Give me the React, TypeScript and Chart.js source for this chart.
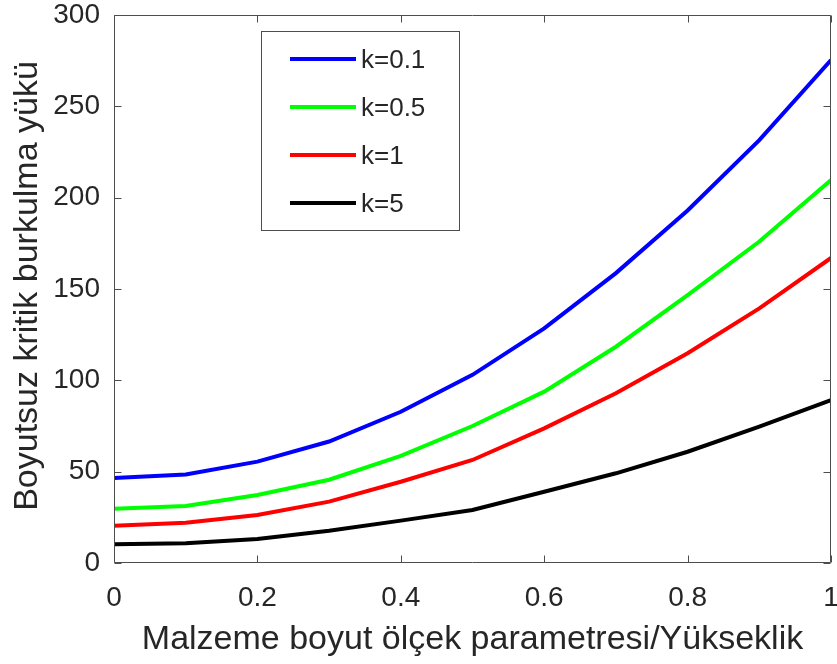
import React, { useEffect, useRef } from "react";
import { Chart, registerables } from "chart.js";

Chart.register(...registerables);

const xValues = [0, 0.1, 0.2, 0.3, 0.4, 0.5, 0.6, 0.7, 0.8, 0.9, 1.0];
const seriesLabels = ["k=0.1", "k=0.5", "k=1", "k=5"];
const k01 = [46.5, 48.5, 55.5, 66.5, 82.8, 103, 128.4, 158.7, 193, 231.5, 275.3];
const k05 = [29.7, 31.2, 37.2, 45.6, 58.6, 75, 93.8, 118.4, 146.7, 176, 209.6];
const k1 = [20.4, 22, 26.3, 33.6, 44.5, 56.4, 73.7, 92.9, 114.8, 139.4, 167];
const k5 = [10.2, 10.8, 13.1, 17.7, 23.2, 29, 39, 49.1, 60.9, 74.6, 89.2];
const seriesColors = ["#0000ff", "#00ff00", "#ff0000", "#000000"];
const xTitle = "Malzeme boyut ölçek parametresi/Yükseklik";
const yTitle = "Boyutsuz kritik burkulma yükü";

const FONT = "'Liberation Sans', Arial, Helvetica, sans-serif";
const AXIS = "#4d4d4d";
const TEXT = "#262626";

const framePlugin = {
  id: "matlabFrame",
  afterDatasetsDraw(chart: any) {
    const { ctx, chartArea } = chart;
    const { left, right, top, bottom } = chartArea;
    const xs = chart.scales.x;
    const ys = chart.scales.y;
    ctx.save();
    ctx.strokeStyle = AXIS;
    ctx.lineWidth = 1;
    const L = Math.round(left) + 0.5;
    const R = Math.round(right) - 0.5;
    const T = Math.round(top) + 0.5;
    const B = Math.round(bottom) - 0.5;
    ctx.beginPath();
    ctx.rect(L, T, R - L, B - T);
    ctx.stroke();
    const tl = 7;
    ctx.beginPath();
    xs.ticks.forEach((t: any) => {
      const px = Math.round(xs.getPixelForValue(t.value)) + 0.5;
      ctx.moveTo(px, B);
      ctx.lineTo(px, B - tl);
      ctx.moveTo(px, T);
      ctx.lineTo(px, T + tl);
    });
    ys.ticks.forEach((t: any) => {
      const py = Math.round(ys.getPixelForValue(t.value)) + 0.5;
      ctx.moveTo(L, py);
      ctx.lineTo(L + tl, py);
      ctx.moveTo(R, py);
      ctx.lineTo(R - tl, py);
    });
    ctx.stroke();

    // legend
    const bx = 261.5, by = 31.5, bw = 198, bh = 199;
    ctx.fillStyle = "#ffffff";
    ctx.fillRect(bx, by, bw, bh);
    ctx.strokeStyle = AXIS;
    ctx.strokeRect(bx, by, bw, bh);
    chart.data.datasets.forEach((ds: any, i: number) => {
      const ly = 59 + i * 48;
      ctx.strokeStyle = ds.borderColor;
      ctx.lineWidth = 4;
      ctx.beginPath();
      ctx.moveTo(290, ly);
      ctx.lineTo(356, ly);
      ctx.stroke();
      ctx.fillStyle = TEXT;
      ctx.font = `26px ${FONT}`;
      ctx.textAlign = "left";
      ctx.textBaseline = "middle";
      ctx.fillText(ds.label, 361, ly + 2);
    });

    // axis titles
    ctx.fillStyle = TEXT;
    ctx.font = `34px ${FONT}`;
    ctx.textAlign = "center";
    ctx.textBaseline = "alphabetic";
    ctx.fillText(xTitle, (left + right) / 2, 649);
    ctx.save();
    ctx.translate(37, (top + bottom) / 2 - 3);
    ctx.rotate(-Math.PI / 2);
    ctx.fillText(yTitle, 0, 0);
    ctx.restore();
    ctx.restore();
  },
};

export default function App() {
  const ref = useRef<HTMLCanvasElement>(null);
  useEffect(() => {
    document.body.style.margin = "0";
    const all = [k01, k05, k1, k5];
    const chart = new Chart(ref.current as HTMLCanvasElement, {
      type: "line",
      data: {
        datasets: all.map((arr, i) => ({
          label: seriesLabels[i],
          data: xValues.map((x, j) => ({ x, y: arr[j] })),
          borderColor: seriesColors[i],
          backgroundColor: seriesColors[i],
          borderWidth: 4,
          pointRadius: 0,
          tension: 0,
          fill: false,
        })),
      },
      options: {
        responsive: false,
        animation: false,
        layout: { padding: { top: 15, right: 6, left: 0, bottom: 0 } },
        plugins: { legend: { display: false }, tooltip: { enabled: false } },
        scales: {
          x: {
            type: "linear",
            min: 0,
            max: 1,
            grid: { display: false, drawTicks: false },
            border: { display: false },
            ticks: {
              stepSize: 0.2,
              padding: 18,
              color: TEXT,
              font: { size: 28, family: FONT },
              maxRotation: 0,
              callback: (v: any) => String(Math.round(Number(v) * 10) / 10),
            },
            afterFit: (s: any) => {
              s.height = 101;
              s.paddingLeft = 0;
              s.paddingRight = 0;
            },
          },
          y: {
            min: 0,
            max: 300,
            grid: { display: false, drawTicks: false },
            border: { display: false },
            ticks: {
              stepSize: 50,
              padding: 14,
              color: TEXT,
              font: { size: 28, family: FONT },
            },
            afterFit: (s: any) => {
              s.width = 114;
              s.paddingTop = 0;
              s.paddingBottom = 0;
            },
          },
        },
      },
      plugins: [framePlugin],
    });
    return () => chart.destroy();
  }, []);
  return (
    <div style={{ width: 837, height: 664 }}>
      <canvas ref={ref} width={837} height={664} />
    </div>
  );
}
